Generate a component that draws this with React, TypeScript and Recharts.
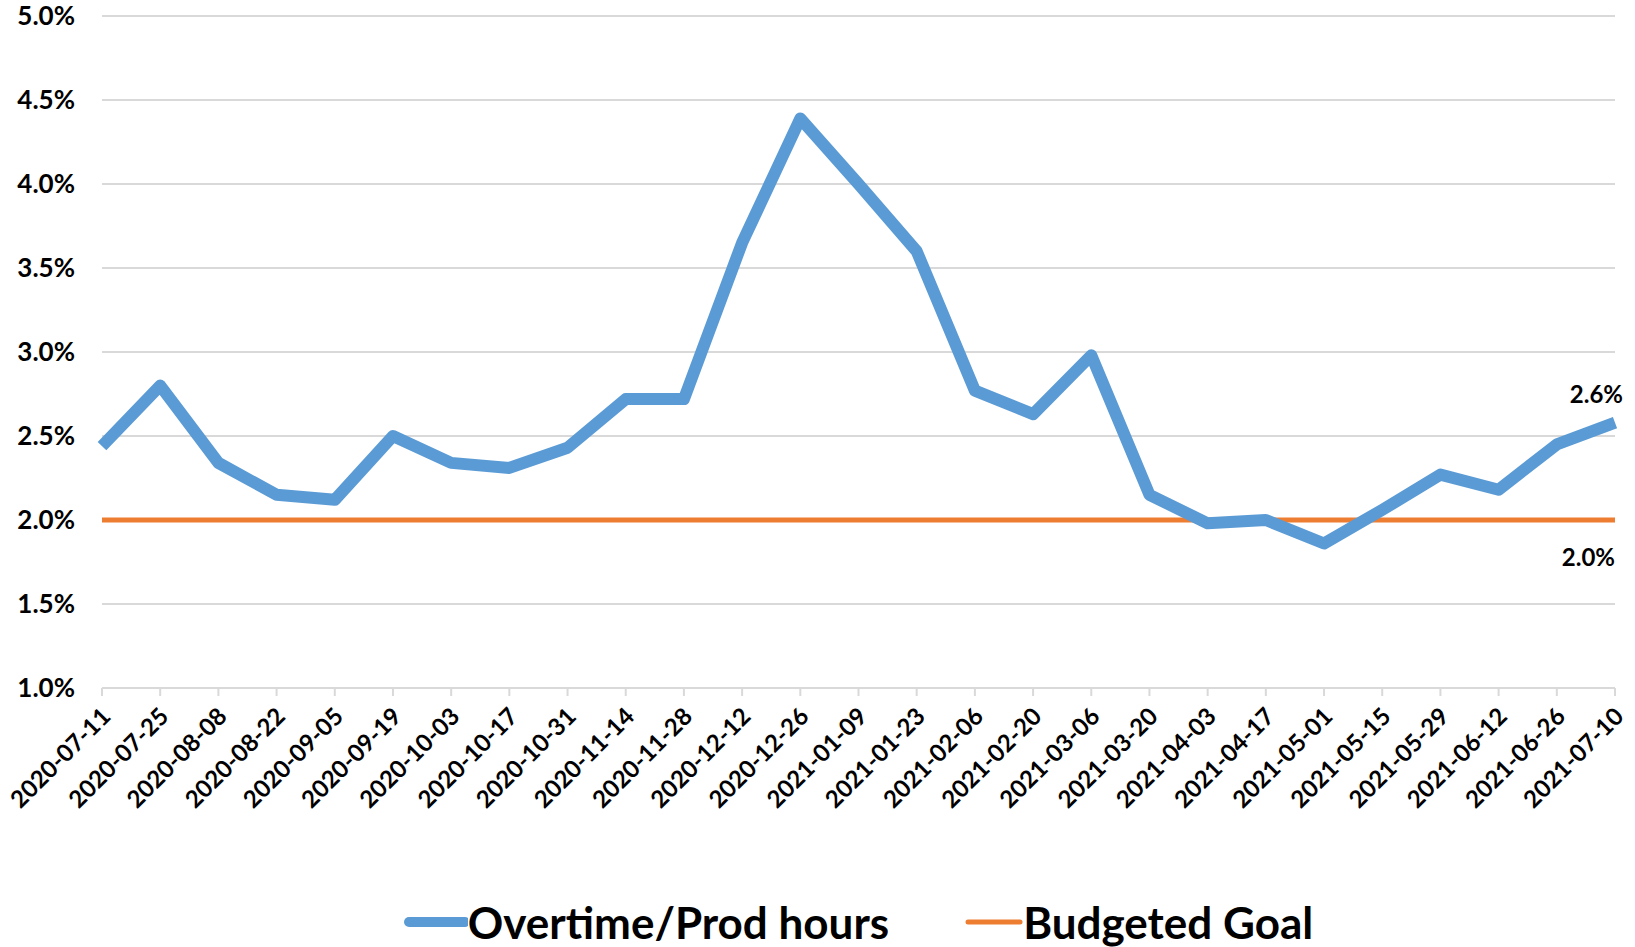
import React from 'react'
import { LineChart, Line, XAxis, YAxis, CartesianGrid, Legend, LabelList } from 'recharts'

const periods = [
  '2020-07-11', '2020-07-25', '2020-08-08', '2020-08-22', '2020-09-05', '2020-09-19',
  '2020-10-03', '2020-10-17', '2020-10-31', '2020-11-14', '2020-11-28', '2020-12-12',
  '2020-12-26', '2021-01-09', '2021-01-23', '2021-02-06', '2021-02-20', '2021-03-06',
  '2021-03-20', '2021-04-03', '2021-04-17', '2021-05-01', '2021-05-15', '2021-05-29',
  '2021-06-12', '2021-06-26', '2021-07-10',
]

const overtime = [
  2.44, 2.8, 2.34, 2.15, 2.12, 2.5, 2.34, 2.31, 2.43, 2.72, 2.72, 3.65, 4.39, 4.0,
  3.6, 2.77, 2.63, 2.98, 2.15, 1.98, 2.0, 1.86, 2.06, 2.27, 2.18, 2.45, 2.58,
]

const goal = periods.map(() => 2.0)

const yTicks = [1.0, 1.5, 2.0, 2.5, 3.0, 3.5, 4.0, 4.5, 5.0]

const data = periods.map((p, i) => ({ period: p, overtime: overtime[i], goal: goal[i] }))

const FONT = 'Lato, "Open Sans", sans-serif'
const BLUE = '#5B9BD5'
const ORANGE = '#ED7D31'

const XTick = ({ x, y, payload }: any) => (
  <text
    x={x + 10}
    y={y + 20}
    transform={`rotate(-45, ${x + 10}, ${y + 20})`}
    textAnchor="end"
    fontFamily={FONT}
    fontWeight={700}
    fontSize={24}
    fill="#000"
  >
    {payload.value}
  </text>
)

const lastLabel = (dy: number, dx: number) => (props: any) => {
  const { x, y, value, index } = props
  if (index !== periods.length - 1) return null
  return (
    <text
      x={x + dx}
      y={y + dy}
      textAnchor="end"
      fontFamily={FONT}
      fontWeight={700}
      fontSize={24}
      fill="#000"
    >
      {`${value.toFixed(1)}%`}
    </text>
  )
}

const LegendContent = () => (
  <div
    style={{
      display: 'flex',
      justifyContent: 'center',
      alignItems: 'center',
      gap: 76,
      fontFamily: FONT,
      fontWeight: 700,
      fontSize: 44,
      color: '#000',
    }}
  >
    <div style={{ display: 'flex', alignItems: 'center' }}>
      <svg width={64} height={14}>
        <line x1={5} y1={7} x2={61} y2={7} stroke={BLUE} strokeWidth={10} strokeLinecap="round" />
      </svg>
      <span>Overtime/Prod hours</span>
    </div>
    <div style={{ display: 'flex', alignItems: 'center' }}>
      <svg width={58} height={14}>
        <line x1={3} y1={7} x2={55} y2={7} stroke={ORANGE} strokeWidth={5} strokeLinecap="round" />
      </svg>
      <span>Budgeted Goal</span>
    </div>
  </div>
)

export default function App() {
  return (
    <div style={{ position: 'absolute', left: 0, top: 0, background: '#fff' }}>
      <LineChart
        width={1635}
        height={947}
        data={data}
        margin={{ top: 16, right: 20, left: 0, bottom: 1 }}
      >
        <CartesianGrid vertical={false} stroke="#D9D9D9" strokeWidth={2} />
        <XAxis
          dataKey="period"
          interval={0}
          height={208}
          tick={<XTick />}
          tickLine={{ stroke: '#D9D9D9', strokeWidth: 2 }}
          tickSize={8}
          axisLine={{ stroke: '#D9D9D9', strokeWidth: 2 }}
        />
        <YAxis
          domain={[1, 5]}
          ticks={yTicks}
          width={102}
          axisLine={false}
          tickLine={false}
          tickMargin={21}
          tickFormatter={(v: number) => `${v.toFixed(1)}%`}
          tick={{ fontFamily: FONT, fontWeight: 700, fontSize: 26, fill: '#000' }}
        />
        <Legend
          verticalAlign="bottom"
          content={<LegendContent />}
          wrapperStyle={{ left: 102, width: 1513, height: 50 }}
        />
        <Line
          type="linear"
          dataKey="goal"
          stroke={ORANGE}
          strokeWidth={5}
          dot={false}
          isAnimationActive={false}
        >
          <LabelList dataKey="goal" content={lastLabel(46, 0)} />
        </Line>
        <Line
          type="linear"
          dataKey="overtime"
          stroke={BLUE}
          strokeWidth={12}
          strokeLinejoin="round"
          dot={false}
          isAnimationActive={false}
        >
          <LabelList dataKey="overtime" content={lastLabel(-20, 8)} />
        </Line>
      </LineChart>
    </div>
  )
}
